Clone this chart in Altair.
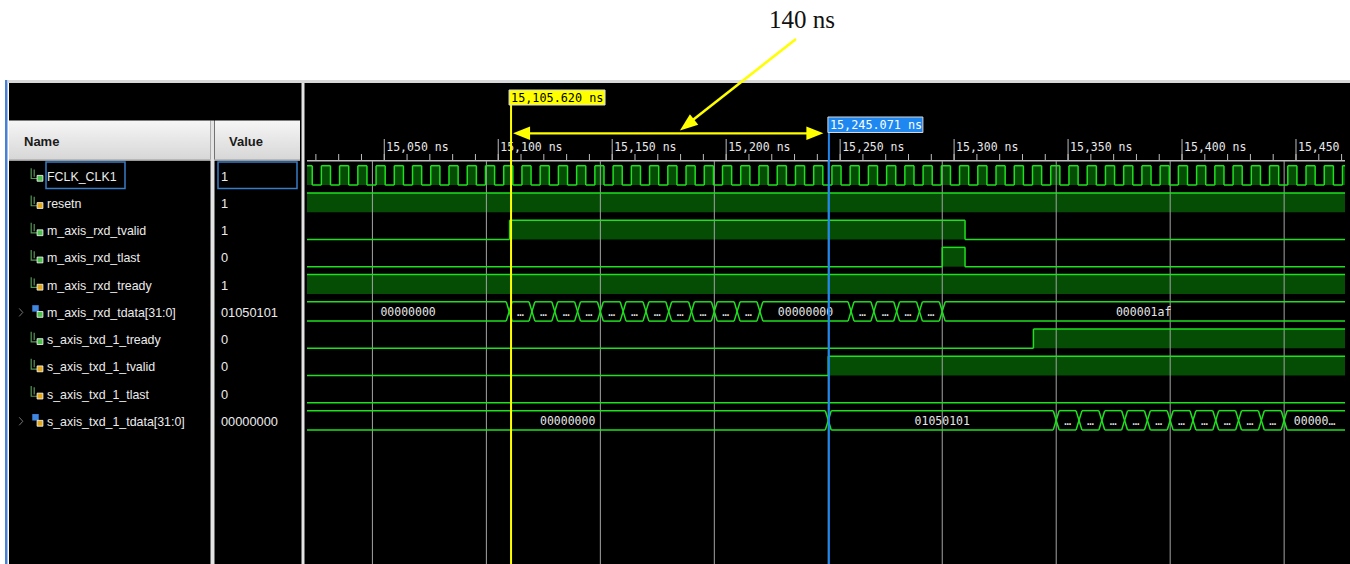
import altair as alt
import pandas as pd

# ---------------- data ----------------
T_LEFT = 15016.1          # ns at left edge of wave window
T_RIGHT = 15471.5         # ns at right edge of wave window

ROW_NAMES = ["FCLK_CLK1", "resetn", "m_axis_rxd_tvalid", "m_axis_rxd_tlast",
             "m_axis_rxd_tready", "m_axis_rxd_tdata[31:0]", "s_axis_txd_1_tready",
             "s_axis_txd_1_tvalid", "s_axis_txd_1_tlast", "s_axis_txd_1_tdata[31:0]"]
ROW_VALUES = ["1", "1", "1", "0", "1", "01050101", "0", "0", "0", "00000000"]
ROW_KIND = ["bit", "bit", "bit", "bit", "bit", "bus", "bit", "bit", "bit", "bus"]
ROW_PORT = ["out", "in", "out", "out", "in", "out", "out", "in", "in", "in"]

CLK_PERIOD = 8.0
CLK_FIRST_RISE = 15014.4

RESETN_T, RESETN_V = [T_LEFT], [1]
M_TVALID_T, M_TVALID_V = [T_LEFT, 15105.0, 15304.8], [0, 1, 0]
M_TLAST_T, M_TLAST_V = [T_LEFT, 15294.8, 15304.8], [0, 1, 0]
M_TREADY_T, M_TREADY_V = [T_LEFT], [1]
S_TREADY_T, S_TREADY_V = [T_LEFT, 15334.8], [0, 1]
S_TVALID_T, S_TVALID_V = [T_LEFT, 15244.8], [0, 1]
S_TLAST_T, S_TLAST_V = [T_LEFT], [0]

M_TDATA_EDGES = [15104.8, 15114.8, 15124.8, 15134.8, 15144.8, 15154.8, 15164.8,
                 15174.8, 15184.8, 15194.8, 15204.8, 15214.8,
                 15254.8, 15264.8, 15274.8, 15284.8, 15294.8]
M_TDATA_TEXT = ["00000000"] + ["…"] * 11 + ["00000000"] + ["…"] * 4 + ["000001af"]
S_TDATA_EDGES = [15244.8, 15344.8, 15354.8, 15364.8, 15374.8, 15384.8, 15394.8,
                 15404.8, 15414.8, 15424.8, 15434.8, 15444.8]
S_TDATA_TEXT = ["00000000", "01050101"] + ["…"] * 10 + ["00000…"]

GRID_T = [15044.8, 15094.8, 15144.8, 15194.8, 15244.8, 15294.8, 15344.8, 15394.8, 15444.8]
MAJOR_T = [15050, 15100, 15150, 15200, 15250, 15300, 15350, 15400, 15450]
MAJOR_LABELS = ["15,050 ns", "15,100 ns", "15,150 ns", "15,200 ns", "15,250 ns",
                "15,300 ns", "15,350 ns", "15,400 ns", "15,450"]
MINOR_STEP = 10

CURSOR_A, CURSOR_A_LABEL = 15105.620, "15,105.620 ns"
CURSOR_B, CURSOR_B_LABEL = 15245.071, "15,245.071 ns"
DELTA_LABEL = "140 ns"

# ---------------- styling ----------------
LINE = "#1fe01f"
FILL = "#054d05"
HI, LO = 0.147, 0.856      # levels inside a row (row units)
XD = 1.3                   # half width of bus crossing (ns)
MONO = "DejaVu Sans Mono"
SANS = "Liberation Sans"

xs = alt.Scale(domain=[T_LEFT, T_RIGHT], range=[307, 1345], zero=False, nice=False)
ys = alt.Scale(domain=[0, 10], range=[161.7, 433.9], zero=False, nice=False)


def bit_shapes(row, times, levels):
    segs, fills = [], []
    bounds = list(times) + [T_RIGHT]
    for i, lv in enumerate(levels):
        a, b = bounds[i], bounds[i + 1]
        y = row + (HI if lv else LO)
        segs.append(dict(t=a, t2=b, y=y, y2=y))
        if lv:
            fills.append(dict(t=a, t2=b, y=row + HI, y2=row + LO))
        if i > 0 and levels[i - 1] != lv:
            segs.append(dict(t=a, t2=a, y=row + HI, y2=row + LO))
    return segs, fills


def bus_shapes(row, edges, texts):
    segs, labels = [], []
    bounds = [T_LEFT] + list(edges) + [T_RIGHT]
    for i, txt in enumerate(texts):
        a, b = bounds[i], bounds[i + 1]
        a2 = a + XD if i > 0 else a
        b2 = b - XD if i < len(texts) - 1 else b
        for yy in (row + HI, row + LO):
            segs.append(dict(t=a2, t2=b2, y=yy, y2=yy))
        labels.append(dict(t=(a + b) / 2, y=row + 0.5, text=txt))
    for e in edges:
        segs.append(dict(t=e - XD, t2=e + XD, y=row + HI, y2=row + LO))
        segs.append(dict(t=e - XD, t2=e + XD, y=row + LO, y2=row + HI))
    return segs, labels


# clock transitions from its period
clk_t, clk_v = [T_LEFT], [1 if (T_LEFT - CLK_FIRST_RISE) % CLK_PERIOD < CLK_PERIOD / 2 else 0]
r = CLK_FIRST_RISE
while r < T_RIGHT:
    for tt, vv in ((r, 1), (r + CLK_PERIOD / 2, 0)):
        if T_LEFT < tt < T_RIGHT:
            clk_t.append(tt)
            clk_v.append(vv)
    r += CLK_PERIOD

all_segs, all_fills, all_labels = [], [], []
for row, (tt, vv) in enumerate([(clk_t, clk_v), (RESETN_T, RESETN_V), (M_TVALID_T, M_TVALID_V),
                                (M_TLAST_T, M_TLAST_V), (M_TREADY_T, M_TREADY_V)]):
    s, f = bit_shapes(row, tt, vv)
    all_segs += s
    all_fills += f
for row, (tt, vv) in zip([6, 7, 8], [(S_TREADY_T, S_TREADY_V), (S_TVALID_T, S_TVALID_V),
                                     (S_TLAST_T, S_TLAST_V)]):
    s, f = bit_shapes(row, tt, vv)
    all_segs += s
    all_fills += f
for row, (ee, tx) in [(5, (M_TDATA_EDGES, M_TDATA_TEXT)), (9, (S_TDATA_EDGES, S_TDATA_TEXT))]:
    s, l = bus_shapes(row, ee, tx)
    all_segs += s
    all_labels += l

segs_df = pd.DataFrame(all_segs)
fills_df = pd.DataFrame(all_fills)
labels_df = pd.DataFrame(all_labels)

rows_df = pd.DataFrame({
    "name": ROW_NAMES, "value": ROW_VALUES, "kind": ROW_KIND, "port": ROW_PORT,
    "yc": [i + 0.5 for i in range(len(ROW_NAMES))],
})
grid_df = pd.DataFrame({"t": GRID_T})
major_df = pd.DataFrame({"t": MAJOR_T, "label": MAJOR_LABELS})
minor_df = pd.DataFrame({"t": list(range(15020, int(T_RIGHT) + 1, MINOR_STEP))})
cur_df = pd.DataFrame({"t": [CURSOR_A], "t2": [CURSOR_B]})
one = pd.DataFrame({"k": [0]})


def box(x, x2, y, y2, color, **kw):
    return alt.Chart(one).mark_rect(color=color, **kw).encode(
        x=alt.value(x), x2=alt.value(x2), y=alt.value(y), y2=alt.value(y2))


grad = alt.Gradient(gradient="linear", x1=0, x2=0, y1=0, y2=1,
                    stops=[alt.GradientStop(color="#f6f6f6", offset=0),
                           alt.GradientStop(color="#d6d6d6", offset=1)])

chrome = [
    box(5, 7.5, 80, 564, "#4a7fd6"),
    box(7.5, 1350, 80, 83, "#d8d8d8"),
    box(9, 1350, 83, 564, "#000000"),
    box(9, 210.5, 120.5, 160.5, grad),
    box(215, 300, 120.5, 160.5, grad),
    box(9, 300, 159.5, 161, "#9a9a9a"),
    box(210.5, 214.5, 120.5, 564, "#e4e4e4"),
    box(301.5, 304.5, 83, 564, "#e4e4e4"),
]

hdr = alt.Chart(one).mark_text(font=SANS, fontSize=13, fontWeight="bold", color="#1a1a1a",
                               align="left", baseline="middle")
chrome += [hdr.encode(x=alt.value(24), y=alt.value(142), text=alt.value("Name")),
           hdr.encode(x=alt.value(229), y=alt.value(142), text=alt.value("Value"))]

# selection boxes around first row
chrome += [
    box(46, 125, 162, 188.5, "#000000", stroke="#3a7cc6", strokeWidth=1.5),
    box(218, 297, 162, 188.5, "#000000", stroke="#3a7cc6", strokeWidth=1.5),
]

rows_base = alt.Chart(rows_df)
names = rows_base.mark_text(font=SANS, fontSize=12.4, color="#ececec", align="left",
                            baseline="middle", dy=1.5).encode(
    x=alt.value(47), y=alt.Y("yc:Q", scale=ys, axis=None), text="name:N")
values = rows_base.mark_text(font=SANS, fontSize=12.8, color="#ececec", align="left",
                             baseline="middle", dy=1.5).encode(
    x=alt.value(221), y=alt.Y("yc:Q", scale=ys, axis=None), text="value:N")

bit_rows = rows_base.transform_filter(alt.datum.kind == "bit")
bus_rows = rows_base.transform_filter(alt.datum.kind == "bus")
icon_bit = bit_rows.mark_point(
    shape="M-0.8,-1 L-0.8,0.7 L0.2,0.7 M-0.3,-0.8 L-0.3,0.4",
    size=144, filled=False, strokeWidth=1.2, color="#78d878").encode(
    x=alt.value(36), y=alt.Y("yc:Q", scale=ys, axis=None), yOffset=alt.value(-1))
icon_bus = bus_rows.mark_square(size=42, color="#3f86e0", opacity=1).encode(
    x=alt.value(35.5), y=alt.Y("yc:Q", scale=ys, axis=None), yOffset=alt.value(-3))
icon_sq = rows_base.mark_square(size=34, opacity=1, strokeWidth=0.8, stroke="#ffffff").encode(
    x=alt.value(40), y=alt.Y("yc:Q", scale=ys, axis=None), yOffset=alt.value(3),
    color=alt.Color("port:N", scale=alt.Scale(domain=["out", "in"], range=["#4cbf4c", "#e2a81a"]),
                    legend=None))
expander = bus_rows.mark_point(shape="M-0.45,-1 L0.45,0 L-0.45,1", size=64, filled=False,
                               strokeWidth=1, color="#a8a8a8").encode(
    x=alt.value(21), y=alt.Y("yc:Q", scale=ys, axis=None), yOffset=alt.value(1))

# ruler
ruler_line = box(307, 1345, 160, 161.5, "#bdbdbd")
minor = alt.Chart(minor_df).mark_rule(color="#bdbdbd", strokeWidth=1).encode(
    x=alt.X("t:Q", scale=xs, axis=None), y=alt.value(154), y2=alt.value(161))
major = alt.Chart(major_df).mark_rule(color="#bdbdbd", strokeWidth=1).encode(
    x=alt.X("t:Q", scale=xs, axis=None), y=alt.value(139), y2=alt.value(161))
major_txt = alt.Chart(major_df).mark_text(font=MONO, fontSize=11.5, color="#e8e8e8",
                                          align="left", baseline="alphabetic", dx=2).encode(
    x=alt.X("t:Q", scale=xs, axis=None), y=alt.value(151), text="label:N")
grid = alt.Chart(grid_df).mark_rule(color="#a4a4a4", strokeWidth=1).encode(
    x=alt.X("t:Q", scale=xs, axis=None), y=alt.value(161), y2=alt.value(564))

fills = alt.Chart(fills_df).mark_rect(color=FILL).encode(
    x=alt.X("t:Q", scale=xs, axis=None), x2="t2:Q",
    y=alt.Y("y:Q", scale=ys, axis=None), y2="y2:Q")
lines = alt.Chart(segs_df).mark_rule(color=LINE, strokeWidth=1.5).encode(
    x=alt.X("t:Q", scale=xs, axis=None), x2="t2:Q",
    y=alt.Y("y:Q", scale=ys, axis=None), y2="y2:Q")
bus_txt = alt.Chart(labels_df).mark_text(font=MONO, fontSize=11.5, color="#e6e6e6",
                                         baseline="middle", dy=1.5).encode(
    x=alt.X("t:Q", scale=xs, axis=None), y=alt.Y("y:Q", scale=ys, axis=None), text="text:N")

# cursors
cur = alt.Chart(cur_df)
cur_a = cur.mark_rule(color="#ffff00", strokeWidth=2).encode(
    x=alt.X("t:Q", scale=xs, axis=None), y=alt.value(105), y2=alt.value(564))
cur_b = cur.mark_rule(color="#1e88f0", strokeWidth=2).encode(
    x=alt.X("t2:Q", scale=xs, axis=None), y=alt.value(132.5), y2=alt.value(564))
lab_a = cur.mark_rect(color="#ffff00", stroke="#d8d8d8", strokeWidth=1,
                      xOffset=-2, x2Offset=94).encode(
    x=alt.X("t:Q", scale=xs, axis=None), x2="t:Q", y=alt.value(90), y2=alt.value(105))
lab_a_t = cur.mark_text(font=MONO, fontSize=11.8, color="#000000", align="left",
                        baseline="alphabetic", dx=0).encode(
    x=alt.X("t:Q", scale=xs, axis=None), y=alt.value(102), text=alt.value(CURSOR_A_LABEL))
lab_b = cur.mark_rect(color="#1e88f0", stroke="#d8d8d8", strokeWidth=1,
                      xOffset=-1, x2Offset=94).encode(
    x=alt.X("t2:Q", scale=xs, axis=None), x2="t2:Q", y=alt.value(117), y2=alt.value(132.5))
lab_b_t = cur.mark_text(font=MONO, fontSize=11.8, color="#ffffff", align="left",
                        baseline="alphabetic", dx=1).encode(
    x=alt.X("t2:Q", scale=xs, axis=None), y=alt.value(129), text=alt.value(CURSOR_B_LABEL))

# yellow measurement arrow between the cursors
arr_line = cur.mark_rule(color="#ffff00", strokeWidth=2.2, xOffset=12, x2Offset=-12).encode(
    x=alt.X("t:Q", scale=xs, axis=None), x2="t2:Q", y=alt.value(133.3))
arr_l = cur.mark_point(shape="M-1,0 L1,-0.8 L1,0.8 Z", size=289, filled=True, opacity=1,
                       color="#ffff00", xOffset=10.5).encode(
    x=alt.X("t:Q", scale=xs, axis=None), y=alt.value(133.3))
arr_r = cur.mark_point(shape="M1,0 L-1,-0.8 L-1,0.8 Z", size=289, filled=True, opacity=1,
                       color="#ffff00", xOffset=-14).encode(
    x=alt.X("t2:Q", scale=xs, axis=None), y=alt.value(133.3))

# annotation above the viewer
diag = alt.Chart(one).mark_rule(color="#ffff00", strokeWidth=2.5).encode(
    x=alt.value(796), x2=alt.value(689), y=alt.value(39), y2=alt.value(123))
diag_head = alt.Chart(one).mark_point(shape="M-1,0 L1,-0.75 L1,0.75 Z", size=324, filled=True,
                                      opacity=1, color="#ffff00", angle=322).encode(
    x=alt.value(687), y=alt.value(125))
delta_t = alt.Chart(one).mark_text(font="Liberation Serif", fontSize=25, color="#111111",
                                   baseline="alphabetic").encode(
    x=alt.value(802), y=alt.value(28), text=alt.value(DELTA_LABEL))

layers = chrome + [icon_bit, icon_bus, icon_sq, expander, names, values,
                   ruler_line, minor, major, major_txt,
                   fills, grid, lines, bus_txt,
                   cur_a, cur_b, lab_a, lab_a_t, lab_b, lab_b_t,
                   arr_line, arr_l, arr_r, diag, diag_head, delta_t]

chart = alt.layer(*layers).properties(
    width=1350, height=564, padding=0, autosize="none", background="#ffffff"
).configure_view(strokeWidth=0)

chart.save("out.html", embed_options={"renderer": "svg", "actions": False})
